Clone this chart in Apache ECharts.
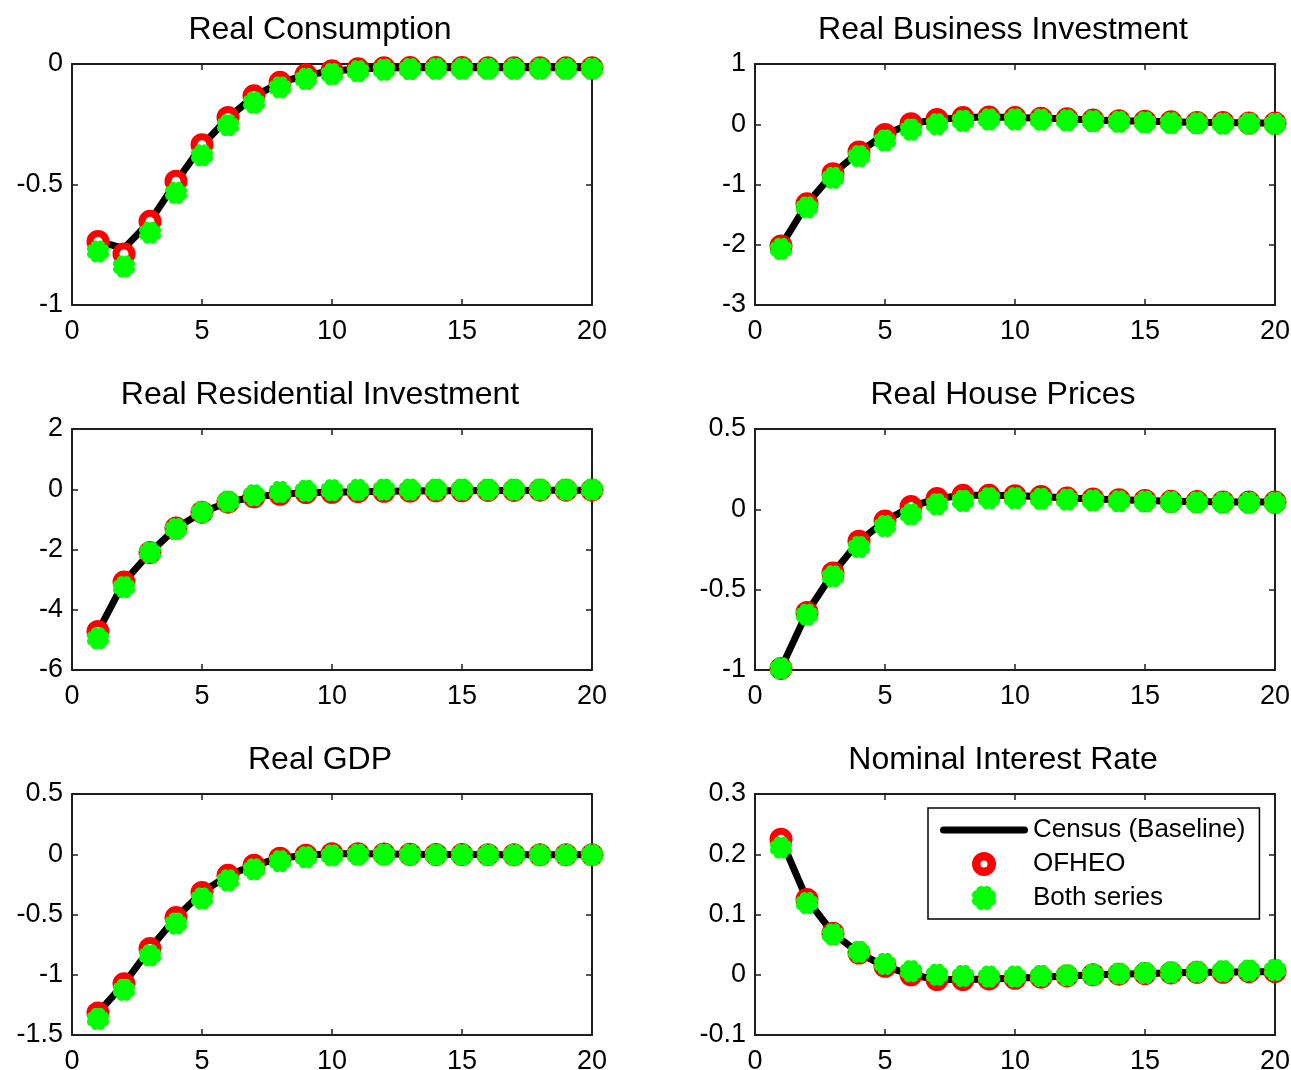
<!DOCTYPE html>
<html>
<head>
<meta charset="utf-8">
<title>Impulse responses</title>
<script src="https://cdn.jsdelivr.net/npm/echarts@6/dist/echarts.min.js"></script>
<style>
  html, body { margin: 0; padding: 0; background: #ffffff; }
  #chart { width: 1291px; height: 1070px; }
</style>
</head>
<body>
<div id="chart"></div>
<script>
// Horizon (quarters after the shock)
const quarters = [1, 2, 3, 4, 5, 6, 7, 8, 9, 10, 11, 12, 13, 14, 15, 16, 17, 18, 19, 20];
const xTicks = [0, 5, 10, 15, 20];

// Panel titles
const panelTitles = [
  'Real Consumption', 'Real Business Investment',
  'Real Residential Investment', 'Real House Prices',
  'Real GDP', 'Nominal Interest Rate'
];

// Y tick labels per panel
const consumptionTicks = [-1, -0.5, 0];
const businessTicks = [-3, -2, -1, 0, 1];
const residentialTicks = [-6, -4, -2, 0, 2];
const housePriceTicks = [-1, -0.5, 0, 0.5];
const gdpTicks = [-1.5, -1, -0.5, 0, 0.5];
const interestTicks = [-0.1, 0, 0.1, 0.2, 0.3];

// Real Consumption
const consumptionCensus = [-0.736, -0.765, -0.653, -0.49, -0.338, -0.224, -0.134, -0.077, -0.046, -0.029, -0.021, -0.017, -0.016, -0.016, -0.016, -0.016, -0.016, -0.016, -0.016, -0.016];
const consumptionOfheo  = [-0.736, -0.788, -0.653, -0.486, -0.335, -0.222, -0.132, -0.076, -0.045, -0.028, -0.02, -0.016, -0.015, -0.015, -0.015, -0.016, -0.016, -0.016, -0.016, -0.016];
const consumptionBoth   = [-0.778, -0.84, -0.70, -0.535, -0.379, -0.254, -0.16, -0.097, -0.062, -0.042, -0.03, -0.024, -0.021, -0.02, -0.02, -0.02, -0.02, -0.02, -0.02, -0.02];

// Real Business Investment
const businessCensus = [-2.02, -1.32, -0.82, -0.46, -0.17, 0.01, 0.08, 0.11, 0.12, 0.11, 0.10, 0.09, 0.07, 0.06, 0.05, 0.04, 0.03, 0.03, 0.02, 0.02];
const businessOfheo  = [-2.02, -1.32, -0.82, -0.46, -0.17, 0.01, 0.08, 0.11, 0.12, 0.11, 0.10, 0.09, 0.07, 0.06, 0.05, 0.04, 0.03, 0.03, 0.02, 0.02];
const businessBoth   = [-2.07, -1.38, -0.89, -0.53, -0.27, -0.09, 0.0, 0.055, 0.08, 0.08, 0.075, 0.065, 0.05, 0.04, 0.03, 0.02, 0.015, 0.01, 0.01, 0.005];

// Real Residential Investment
const residentialCensus = [-4.72, -3.08, -2.1, -1.29, -0.76, -0.43, -0.25, -0.17, -0.11, -0.1, -0.08, -0.07, -0.06, -0.05, -0.05, -0.04, -0.04, -0.03, -0.03, -0.03];
const residentialOfheo  = [-4.72, -3.08, -2.1, -1.29, -0.76, -0.43, -0.25, -0.17, -0.11, -0.1, -0.08, -0.07, -0.06, -0.05, -0.05, -0.04, -0.04, -0.03, -0.03, -0.03];
const residentialBoth   = [-4.95, -3.25, -2.1, -1.32, -0.76, -0.41, -0.2, -0.09, -0.05, -0.03, -0.02, -0.01, -0.01, -0.01, -0.01, -0.01, -0.01, -0.01, -0.01, -0.01];

// Real House Prices
const housePriceCensus = [-0.99, -0.642, -0.396, -0.198, -0.073, 0.017, 0.067, 0.087, 0.087, 0.085, 0.08, 0.07, 0.065, 0.06, 0.055, 0.05, 0.048, 0.046, 0.045, 0.045];
const housePriceOfheo  = [-0.99, -0.642, -0.396, -0.198, -0.073, 0.017, 0.067, 0.087, 0.087, 0.085, 0.08, 0.07, 0.065, 0.06, 0.055, 0.05, 0.048, 0.046, 0.045, 0.045];
const housePriceBoth   = [-0.99, -0.656, -0.417, -0.235, -0.104, -0.031, 0.031, 0.052, 0.069, 0.069, 0.065, 0.06, 0.055, 0.05, 0.048, 0.045, 0.043, 0.042, 0.041, 0.04];

// Real GDP
const gdpCensus = [-1.317, -1.075, -0.783, -0.525, -0.317, -0.175, -0.092, -0.033, -0.008, 0.005, 0.005, 0.003, 0.0, -0.002, -0.003, -0.004, -0.005, -0.005, -0.005, -0.005];
const gdpOfheo  = [-1.317, -1.075, -0.783, -0.525, -0.317, -0.175, -0.092, -0.033, -0.008, 0.005, 0.005, 0.003, 0.0, -0.002, -0.003, -0.004, -0.005, -0.005, -0.005, -0.005];
const gdpBoth   = [-1.367, -1.125, -0.84, -0.575, -0.367, -0.217, -0.125, -0.058, -0.025, -0.01, -0.004, -0.003, -0.004, -0.005, -0.006, -0.007, -0.007, -0.007, -0.007, -0.007];

// Nominal Interest Rate
const interestCensus = [0.225, 0.125, 0.069, 0.036, 0.014, 0.0, -0.008, -0.008, -0.007, -0.006, -0.004, -0.002, 0.0, 0.001, 0.002, 0.003, 0.004, 0.004, 0.005, 0.005];
const interestOfheo  = [0.225, 0.125, 0.069, 0.036, 0.014, 0.0, -0.008, -0.008, -0.007, -0.006, -0.004, -0.002, 0.0, 0.001, 0.002, 0.003, 0.004, 0.004, 0.005, 0.005];
const interestBoth   = [0.211, 0.119, 0.067, 0.038, 0.018, 0.006, 0.0, -0.002, -0.003, -0.003, -0.002, -0.001, 0.0, 0.002, 0.003, 0.004, 0.005, 0.006, 0.007, 0.008];

const seriesNames = ['Census (Baseline)', 'OFHEO', 'Both series'];

const panels = [
  { title: panelTitles[0], ticks: consumptionTicks, census: consumptionCensus, ofheo: consumptionOfheo, both: consumptionBoth },
  { title: panelTitles[1], ticks: businessTicks, census: businessCensus, ofheo: businessOfheo, both: businessBoth },
  { title: panelTitles[2], ticks: residentialTicks, census: residentialCensus, ofheo: residentialOfheo, both: residentialBoth },
  { title: panelTitles[3], ticks: housePriceTicks, census: housePriceCensus, ofheo: housePriceOfheo, both: housePriceBoth },
  { title: panelTitles[4], ticks: gdpTicks, census: gdpCensus, ofheo: gdpOfheo, both: gdpBoth },
  { title: panelTitles[5], ticks: interestTicks, census: interestCensus, ofheo: interestOfheo, both: interestBoth }
];

// Layout of the 3x2 panel grid
const colLefts = [72, 755];
const rowTops = [64, 429, 794];
const plotW = 520, plotH = 241;
const FONT = '"Liberation Sans", Arial, Helvetica, sans-serif';
const AXIS_COLOR = '#1e1e1e';

// Scalloped disc marker
function flowerSymbol() {
  const n = 96, pts = [];
  for (let i = 0; i < n; i++) {
    const t = (i / n) * Math.PI * 2 + Math.PI / 8;
    const r = 50 * (0.84 + 0.16 * Math.sqrt(Math.abs(Math.cos(4 * (t - Math.PI / 8)))));
    pts.push((50 + r * Math.cos(t)).toFixed(2) + ',' + (50 + r * Math.sin(t)).toFixed(2));
  }
  return 'path://M' + pts.join(' L') + ' Z';
}
const FLOWER = flowerSymbol();
// Ring icon for the legend (outer and inner circles wound in opposite directions)
const RING = 'path://M0,12 A12,12 0 1,1 24,12 A12,12 0 1,1 0,12 Z M8.5,12 A3.5,3.5 0 1,0 15.5,12 A3.5,3.5 0 1,0 8.5,12 Z';
// Thick rounded bar used as the line key in the legend
const BAR = 'path://M3.5,0 L84.5,0 A3.5,3.5 0 0,1 84.5,7 L3.5,7 A3.5,3.5 0 0,1 3.5,0 Z';

const grids = [], xAxes = [], yAxes = [], series = [], graphics = [];

panels.forEach((p, i) => {
  const left = colLefts[i % 2];
  const top = rowTops[Math.floor(i / 2)];
  grids.push({ left: left, top: top, width: plotW, height: plotH, containLabel: false, outerBoundsMode: 'none' });

  const tickLine = { show: true, inside: true, length: 6, lineStyle: { color: AXIS_COLOR, width: 1.5 } };
  const axisLine = { show: true, onZero: false, lineStyle: { color: AXIS_COLOR, width: 2 } };
  const xMin = xTicks[0], xMax = xTicks[xTicks.length - 1], xStep = xTicks[1] - xTicks[0];
  const yMin = p.ticks[0], yMax = p.ticks[p.ticks.length - 1], yStep = p.ticks[1] - p.ticks[0];

  xAxes.push({
    gridIndex: i, type: 'value', position: 'bottom', min: xMin, max: xMax, interval: xStep,
    axisLine: axisLine, axisTick: tickLine, splitLine: { show: false },
    axisLabel: { color: '#000', fontFamily: FONT, fontSize: 27, margin: 13 }
  });
  xAxes.push({
    gridIndex: i, type: 'value', position: 'top', min: xMin, max: xMax, interval: xStep,
    axisLine: axisLine, axisTick: tickLine, splitLine: { show: false },
    axisLabel: { show: false }
  });
  yAxes.push({
    gridIndex: i, type: 'value', position: 'left', min: yMin, max: yMax, interval: yStep,
    axisLine: axisLine, axisTick: tickLine, splitLine: { show: false },
    axisLabel: { color: '#000', fontFamily: FONT, fontSize: 27, margin: 9, padding: [3, 0, 0, 0] }
  });
  yAxes.push({
    gridIndex: i, type: 'value', position: 'right', min: yMin, max: yMax, interval: yStep,
    axisLine: axisLine, axisTick: tickLine, splitLine: { show: false },
    axisLabel: { show: false }
  });

  const xi = 2 * i, yi = 2 * i;
  series.push({
    name: seriesNames[0], type: 'line', xAxisIndex: xi, yAxisIndex: yi,
    data: quarters.map((q, k) => [q, p.census[k]]),
    symbol: 'none', lineStyle: { color: '#000', width: 7, join: 'round', cap: 'round' },
    itemStyle: { color: '#000' }, silent: true, z: 2
  });
  series.push({
    name: seriesNames[1], type: 'scatter', xAxisIndex: xi, yAxisIndex: yi,
    data: quarters.map((q, k) => [q, p.ofheo[k]]),
    symbol: 'circle', symbolSize: 16,
    itemStyle: { color: '#ffffff', borderColor: '#ff0000', borderWidth: 7, opacity: 1 },
    silent: true, z: 3
  });
  series.push({
    name: seriesNames[2], type: 'scatter', xAxisIndex: xi, yAxisIndex: yi,
    data: quarters.map((q, k) => [q, p.both[k]]),
    symbol: FLOWER, symbolSize: 22,
    itemStyle: { color: '#00ff00', opacity: 1 },
    silent: true, z: 4
  });

  graphics.push({
    type: 'text', x: left + plotW / 2 - 12, y: top - 34,
    style: { text: p.title, font: '32px ' + FONT, fill: '#000', textAlign: 'center', textVerticalAlign: 'middle' }
  });
});

const chart = echarts.init(document.getElementById('chart'), null, { renderer: 'canvas' });
chart.setOption({
  animation: false,
  backgroundColor: '#ffffff',
  grid: grids,
  xAxis: xAxes,
  yAxis: yAxes,
  series: series,
  graphic: graphics,
  legend: {
    orient: 'vertical', left: 928, top: 808,
    padding: [9, 14, 8, 12],
    itemWidth: 88, itemHeight: 24, itemGap: 8,
    borderColor: '#000', borderWidth: 1.5, backgroundColor: '#ffffff',
    selectedMode: false,
    textStyle: { color: '#000', fontFamily: FONT, fontSize: 26, lineHeight: 26 },
    data: [
      { name: seriesNames[0], icon: BAR, itemStyle: { color: '#000', borderWidth: 0 } },
      { name: seriesNames[1], icon: RING, itemStyle: { color: '#ff0000', borderWidth: 0 } },
      { name: seriesNames[2], icon: FLOWER, itemStyle: { color: '#00ff00', borderWidth: 0 } }
    ]
  }
});
</script>
</body>
</html>
